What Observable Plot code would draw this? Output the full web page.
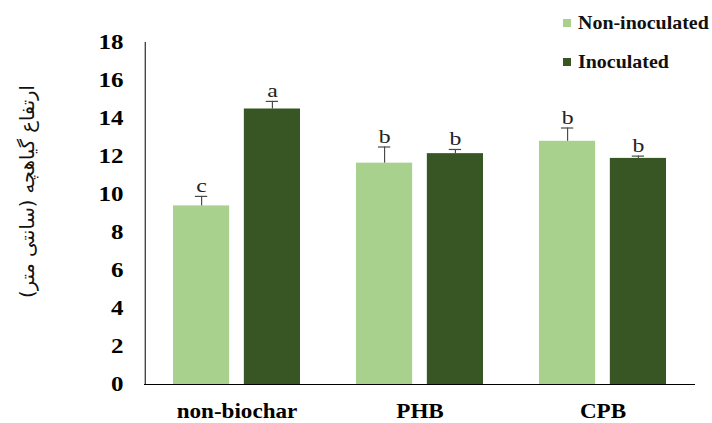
<!DOCTYPE html>
<html>
<head>
<meta charset="utf-8">
<script src="https://cdn.jsdelivr.net/npm/d3@7"></script>
<script src="https://cdn.jsdelivr.net/npm/@observablehq/plot@0.6"></script>
<style>
  body { margin: 0; background: #fff; }
  #wrap { position: relative; width: 712px; height: 423px; font-family: "Liberation Serif", serif; }
  #legend { position: absolute; left: 563px; top: 12px; font-weight: bold; font-size: 19px; color: #111; }
  #legend .item { display: flex; align-items: center; height: 22px; margin-bottom: 17px; }
  #legend .sw { width: 8px; height: 8px; margin-right: 7px; }
  #legend .lbl { display: inline-block; transform: scaleX(1.05); transform-origin: left center; }
</style>
</head>
<body>
<div id="wrap"></div>
<script>
const groups = ["non-biochar", "PHB", "CPB"];
const seriesNames = ["Non-inoculated", "Inoculated"];
const seriesColors = ["#a9d18e", "#375623"];
const nonInoculated = [9.4, 11.65, 12.8];
const inoculated = [14.5, 12.15, 11.9];
const errNonInoculated = [0.5, 0.85, 0.7];
const errInoculated = [0.4, 0.22, 0.12];
const lettersNonInoculated = ["c", "b", "b"];
const lettersInoculated = ["a", "b", "b"];
const yTicks = [0, 2, 4, 6, 8, 10, 12, 14, 16, 18];
const yLabel = "ارتفاع گیاهچه (سانتی متر)";

const rowsNon = groups.map((g, i) => ({group: g, value: nonInoculated[i], err: errNonInoculated[i], letter: lettersNonInoculated[i]}));
const rowsIno = groups.map((g, i) => ({group: g, value: inoculated[i], err: errInoculated[i], letter: lettersInoculated[i]}));

const W = 712, H = 423, mL = 144, mR = 17, mT = 42, mB = 39;
const pIn = 0.305, pOut = 0.152, gap = 14, cap = 13;
const step = (W - mL - mR) / (groups.length - pIn + 2 * pOut);
const bw = step * (1 - pIn);
const barW = (bw - gap) / 2;
const off = (barW + gap) / 2;

const errTop = d => d.value + d.err;
const errStyle = {stroke: "#4a4a4a", strokeWidth: 1.2};
const letterStyle = {fontSize: 19, fill: "#222", lineAnchor: "bottom", dy: -4, className: "letters"};

const plot = Plot.plot({
  width: W, height: H,
  marginLeft: mL, marginRight: mR, marginTop: mT, marginBottom: mB,
  style: {fontFamily: "'Liberation Serif', serif", background: "#fff", color: "#000"},
  x: {domain: groups, paddingInner: pIn, paddingOuter: pOut, label: null},
  y: {domain: [0, 18], label: null},
  marks: [
    Plot.barY(rowsNon, {x: "group", y: "value", fill: seriesColors[0], insetRight: bw - barW}),
    Plot.barY(rowsIno, {x: "group", y: "value", fill: seriesColors[1], insetLeft: bw - barW}),
    Plot.ruleX(rowsNon, {x: "group", y1: "value", y2: errTop, dx: -off, ...errStyle}),
    Plot.ruleX(rowsIno, {x: "group", y1: "value", y2: errTop, dx: off, ...errStyle}),
    Plot.tickY(rowsNon, {x: "group", y: errTop, insetLeft: barW / 2 - cap / 2, insetRight: bw - barW / 2 - cap / 2, ...errStyle}),
    Plot.tickY(rowsIno, {x: "group", y: errTop, insetLeft: bw - barW / 2 - cap / 2, insetRight: barW / 2 - cap / 2, ...errStyle}),
    Plot.text(rowsNon, {x: "group", y: errTop, text: "letter", dx: -off, ...letterStyle}),
    Plot.text(rowsIno, {x: "group", y: errTop, text: "letter", dx: off, ...letterStyle}),
    Plot.ruleY([0], {stroke: "#000", strokeWidth: 1}),
    Plot.ruleX([groups[0]], {y1: 0, y2: 18, dx: -(pOut * step + bw / 2), stroke: "#000", strokeWidth: 1}),
    Plot.axisY({ticks: yTicks, tickSize: 0, tickPadding: 21, fontSize: 20, fontWeight: "bold", label: null}),
    Plot.axisX({tickSize: 0, tickPadding: 19, fontSize: 21, fontWeight: "bold", label: null}),
    Plot.text([yLabel], {frameAnchor: "left", textAnchor: "middle", dx: -117, dy: -22, rotate: -90, fontSize: 19.5, fontFamily: "'DejaVu Sans', 'Noto Sans', sans-serif", fill: "#111"})
  ]
});
const wrap = document.getElementById("wrap");
wrap.appendChild(plot);

// horizontal stretch of glyphs, as in the reference rendering
function stretch(nodes, s) {
  nodes.each(function () {
    const t = this.getAttribute("transform");
    if (t) {
      this.setAttribute("transform", t + ` scale(${s},1)`);
    } else {
      const x = parseFloat(this.getAttribute("x")) || 0;
      const y = this.getAttribute("y");
      this.removeAttribute("x");
      if (y !== null && !/em$/.test(y)) {
        this.removeAttribute("y");
        this.setAttribute("transform", `translate(${x},${parseFloat(y) || 0}) scale(${s},1)`);
      } else {
        this.setAttribute("transform", `translate(${x},0) scale(${s},1)`);
      }
    }
  });
}
const svg = d3.select(plot.tagName.toLowerCase() === "svg" ? plot : plot.querySelector("svg"));
stretch(svg.selectAll('g[aria-label="y-axis tick label"] text'), 1.25);
stretch(svg.selectAll('g[aria-label="x-axis tick label"] text'), 1.1);
stretch(svg.selectAll('g.letters text'), 1.25);

const legend = document.createElement("div");
legend.id = "legend";
seriesNames.forEach((name, i) => {
  const item = document.createElement("div");
  item.className = "item";
  const sw = document.createElement("span");
  sw.className = "sw";
  sw.style.background = seriesColors[i];
  const t = document.createElement("span");
  t.className = "lbl";
  t.textContent = name;
  item.appendChild(sw);
  item.appendChild(t);
  legend.appendChild(item);
});
wrap.appendChild(legend);
</script>
</body>
</html>
